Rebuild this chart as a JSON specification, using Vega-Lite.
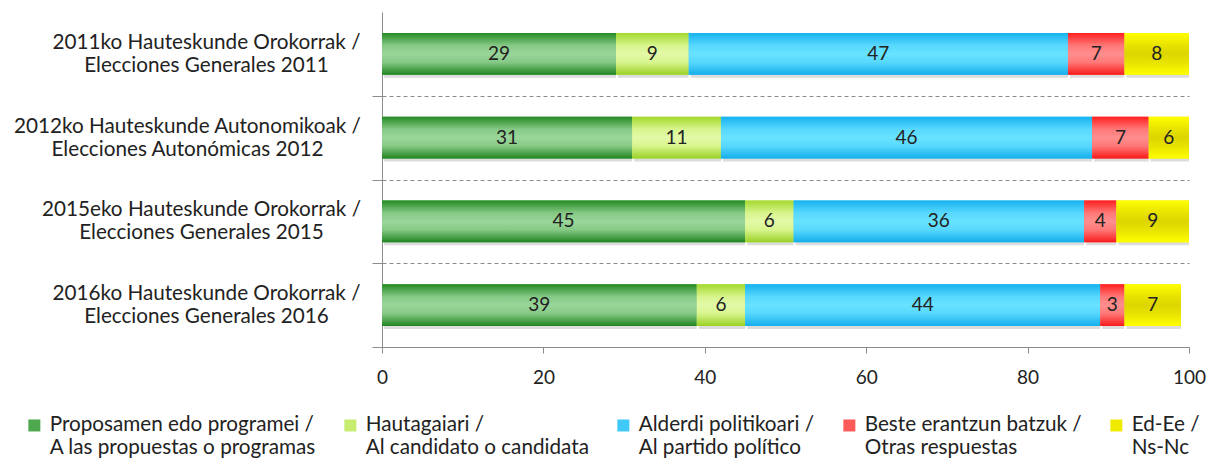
{
  "$schema": "https://vega.github.io/schema/vega-lite/v6.json",
  "width": 807,
  "height": 335,
  "autosize": {"type": "none"},
  "padding": {"left": 382, "top": 12, "right": 28, "bottom": 119},
  "background": "white",
  "config": {"view": {"stroke": null}, "font": "Lato"},
  "data": {
    "values": [
      {"cat": "2011ko Hauteskunde Orokorrak / Elecciones Generales 2011", "series": "Proposamen edo programei / A las propuestas o programas", "order": 1, "value": 29, "label": "29"},
      {"cat": "2011ko Hauteskunde Orokorrak / Elecciones Generales 2011", "series": "Hautagaiari / Al candidato o candidata", "order": 2, "value": 9, "label": "9"},
      {"cat": "2011ko Hauteskunde Orokorrak / Elecciones Generales 2011", "series": "Alderdi politikoari / Al partido político", "order": 3, "value": 47, "label": "47"},
      {"cat": "2011ko Hauteskunde Orokorrak / Elecciones Generales 2011", "series": "Beste erantzun batzuk / Otras respuestas", "order": 4, "value": 7, "label": "7"},
      {"cat": "2011ko Hauteskunde Orokorrak / Elecciones Generales 2011", "series": "Ed-Ee / Ns-Nc", "order": 5, "value": 8, "label": "8"},
      {"cat": "2012ko Hauteskunde Autonomikoak / Elecciones Autonómicas 2012", "series": "Proposamen edo programei / A las propuestas o programas", "order": 1, "value": 31, "label": "31"},
      {"cat": "2012ko Hauteskunde Autonomikoak / Elecciones Autonómicas 2012", "series": "Hautagaiari / Al candidato o candidata", "order": 2, "value": 11, "label": "11"},
      {"cat": "2012ko Hauteskunde Autonomikoak / Elecciones Autonómicas 2012", "series": "Alderdi politikoari / Al partido político", "order": 3, "value": 46, "label": "46"},
      {"cat": "2012ko Hauteskunde Autonomikoak / Elecciones Autonómicas 2012", "series": "Beste erantzun batzuk / Otras respuestas", "order": 4, "value": 7, "label": "7"},
      {"cat": "2012ko Hauteskunde Autonomikoak / Elecciones Autonómicas 2012", "series": "Ed-Ee / Ns-Nc", "order": 5, "value": 5, "label": "6"},
      {"cat": "2015eko Hauteskunde Orokorrak / Elecciones Generales 2015", "series": "Proposamen edo programei / A las propuestas o programas", "order": 1, "value": 45, "label": "45"},
      {"cat": "2015eko Hauteskunde Orokorrak / Elecciones Generales 2015", "series": "Hautagaiari / Al candidato o candidata", "order": 2, "value": 6, "label": "6"},
      {"cat": "2015eko Hauteskunde Orokorrak / Elecciones Generales 2015", "series": "Alderdi politikoari / Al partido político", "order": 3, "value": 36, "label": "36"},
      {"cat": "2015eko Hauteskunde Orokorrak / Elecciones Generales 2015", "series": "Beste erantzun batzuk / Otras respuestas", "order": 4, "value": 4, "label": "4"},
      {"cat": "2015eko Hauteskunde Orokorrak / Elecciones Generales 2015", "series": "Ed-Ee / Ns-Nc", "order": 5, "value": 9, "label": "9"},
      {"cat": "2016ko Hauteskunde Orokorrak / Elecciones Generales 2016", "series": "Proposamen edo programei / A las propuestas o programas", "order": 1, "value": 39, "label": "39"},
      {"cat": "2016ko Hauteskunde Orokorrak / Elecciones Generales 2016", "series": "Hautagaiari / Al candidato o candidata", "order": 2, "value": 6, "label": "6"},
      {"cat": "2016ko Hauteskunde Orokorrak / Elecciones Generales 2016", "series": "Alderdi politikoari / Al partido político", "order": 3, "value": 44, "label": "44"},
      {"cat": "2016ko Hauteskunde Orokorrak / Elecciones Generales 2016", "series": "Beste erantzun batzuk / Otras respuestas", "order": 4, "value": 3, "label": "3"},
      {"cat": "2016ko Hauteskunde Orokorrak / Elecciones Generales 2016", "series": "Ed-Ee / Ns-Nc", "order": 5, "value": 7, "label": "7"}
    ]
  },
  "transform": [
    {"stack": "value", "groupby": ["cat"], "sort": [{"field": "order", "order": "ascending"}], "as": ["v0", "v1"]}
  ],
  "encoding": {
    "y": {
      "field": "cat",
      "type": "nominal",
      "sort": null,
      "scale": {"paddingInner": 0.5, "paddingOuter": 0.25},
      "axis": {
        "title": null,
        "domainColor": "#8c8c8c",
        "tickColor": "#8c8c8c",
        "tickSize": 10,
        "tickOffset": 41.875,
        "grid": true,
        "gridDash": [4, 3],
        "gridColor": "#8c8c8c",
        "labelExpr": "[slice(datum.label, 0, indexof(datum.label, '/') + 1), slice(datum.label, indexof(datum.label, '/') + 2)]",
        "labelAlign": "center",
        "labelFont": "Lato",
        "labelFontSize": 20.7,
        "labelColor": "#222222",
        "labelLineHeight": 23,
        "labelPadding": {
          "condition": [
            {"test": "indexof(datum.value, '2012ko') === 0", "value": 185},
            {"test": "indexof(datum.value, '2015eko') === 0", "value": 171}
          ],
          "value": 166
        },
        "labelOffset": -53.375,
        "labelLimit": 0
      }
    }
  },
  "layer": [
    {
      "mark": {"type": "bar", "color": "#c4c4c4", "opacity": 0.6, "yOffset": 3, "xOffset": 2},
      "encoding": {"x": {"field": "v0", "type": "quantitative"}, "x2": {"field": "v1"}}
    },
    {
      "mark": {"type": "bar"},
      "encoding": {
        "x": {
          "field": "v0",
          "type": "quantitative",
          "scale": {"domain": [0, 100], "nice": false},
          "axis": {
            "title": null,
            "values": [0, 20, 40, 60, 80, 100],
            "grid": false,
            "domainColor": "#8c8c8c",
            "tickColor": "#8c8c8c",
            "tickSize": 6,
            "labelFont": "Lato",
            "labelFontSize": 19,
            "labelColor": "#222222",
            "labelPadding": 15,
            "labelFlush": false,
            "labelOverlap": false
          }
        },
        "x2": {"field": "v1"},
        "color": {
          "field": "series",
          "type": "nominal",
          "scale": {
            "domain": ["Proposamen edo programei / A las propuestas o programas", "Hautagaiari / Al candidato o candidata", "Alderdi politikoari / Al partido político", "Beste erantzun batzuk / Otras respuestas", "Ed-Ee / Ns-Nc"],
            "range": ["#4ea84e", "#c6ec70", "#3fc9f7", "#ff5a5a", "#eeea00"]
          },
          "legend": {
            "title": null,
            "orient": "none",
            "legendX": -358,
            "legendY": 403,
            "direction": "horizontal",
            "columns": 5,
            "columnPadding": 24,
            "symbolType": "square",
            "symbolSize": 144,
            "symbolStrokeWidth": 0,
            "labelFont": "Lato",
            "labelFontSize": 20.7,
            "labelColor": "#222222",
            "labelLineHeight": 26,
            "labelOffset": 5,
            "labelLimit": 0,
            "labelExpr": "[slice(datum.label, 0, indexof(datum.label, '/') + 1), slice(datum.label, indexof(datum.label, '/') + 2)]"
          }
        }
      }
    },
    {
      "transform": [{"filter": "datum.order === 1"}],
      "mark": {"type": "bar", "color": {"gradient": "linear", "x1": 0, "y1": 0, "x2": 0, "y2": 1, "stops": [{"offset": 0, "color": "#238a23"}, {"offset": 0.3, "color": "#86c986"}, {"offset": 0.5, "color": "#9ad69a"}, {"offset": 0.7, "color": "#86c986"}, {"offset": 1, "color": "#1f841f"}]}},
      "encoding": {"x": {"field": "v0", "type": "quantitative"}, "x2": {"field": "v1"}}
    },
    {
      "transform": [{"filter": "datum.order === 2"}],
      "mark": {"type": "bar", "color": {"gradient": "linear", "x1": 0, "y1": 0, "x2": 0, "y2": 1, "stops": [{"offset": 0, "color": "#a3d82c"}, {"offset": 0.3, "color": "#d8f58e"}, {"offset": 0.5, "color": "#e3f9a8"}, {"offset": 0.7, "color": "#d8f58e"}, {"offset": 1, "color": "#9ad024"}]}},
      "encoding": {"x": {"field": "v0", "type": "quantitative"}, "x2": {"field": "v1"}}
    },
    {
      "transform": [{"filter": "datum.order === 3"}],
      "mark": {"type": "bar", "color": {"gradient": "linear", "x1": 0, "y1": 0, "x2": 0, "y2": 1, "stops": [{"offset": 0, "color": "#17b2ef"}, {"offset": 0.3, "color": "#58d8fd"}, {"offset": 0.5, "color": "#68e2ff"}, {"offset": 0.7, "color": "#58d8fd"}, {"offset": 1, "color": "#14aeec"}]}},
      "encoding": {"x": {"field": "v0", "type": "quantitative"}, "x2": {"field": "v1"}}
    },
    {
      "transform": [{"filter": "datum.order === 4"}],
      "mark": {"type": "bar", "color": {"gradient": "linear", "x1": 0, "y1": 0, "x2": 0, "y2": 1, "stops": [{"offset": 0, "color": "#ff1f1f"}, {"offset": 0.3, "color": "#ff7878"}, {"offset": 0.5, "color": "#ff8e8e"}, {"offset": 0.7, "color": "#ff7878"}, {"offset": 1, "color": "#f81a1a"}]}},
      "encoding": {"x": {"field": "v0", "type": "quantitative"}, "x2": {"field": "v1"}}
    },
    {
      "transform": [{"filter": "datum.order === 5"}],
      "mark": {"type": "bar", "color": {"gradient": "linear", "x1": 0, "y1": 0, "x2": 0, "y2": 1, "stops": [{"offset": 0, "color": "#ffff00"}, {"offset": 0.3, "color": "#e8e200"}, {"offset": 0.5, "color": "#ddd500"}, {"offset": 0.7, "color": "#e8e200"}, {"offset": 1, "color": "#ffff00"}]}},
      "encoding": {"x": {"field": "v0", "type": "quantitative"}, "x2": {"field": "v1"}}
    },
    {
      "transform": [
        {"fold": ["v0", "v1"], "as": ["k", "pos"]},
        {"aggregate": [{"op": "mean", "field": "pos", "as": "mid"}], "groupby": ["cat", "series", "label"]}
      ],
      "mark": {"type": "text", "font": "Lato", "fontSize": 19, "color": "#222222"},
      "encoding": {
        "x": {"field": "mid", "type": "quantitative"},
        "text": {"field": "label", "type": "nominal"}
      }
    }
  ]
}
